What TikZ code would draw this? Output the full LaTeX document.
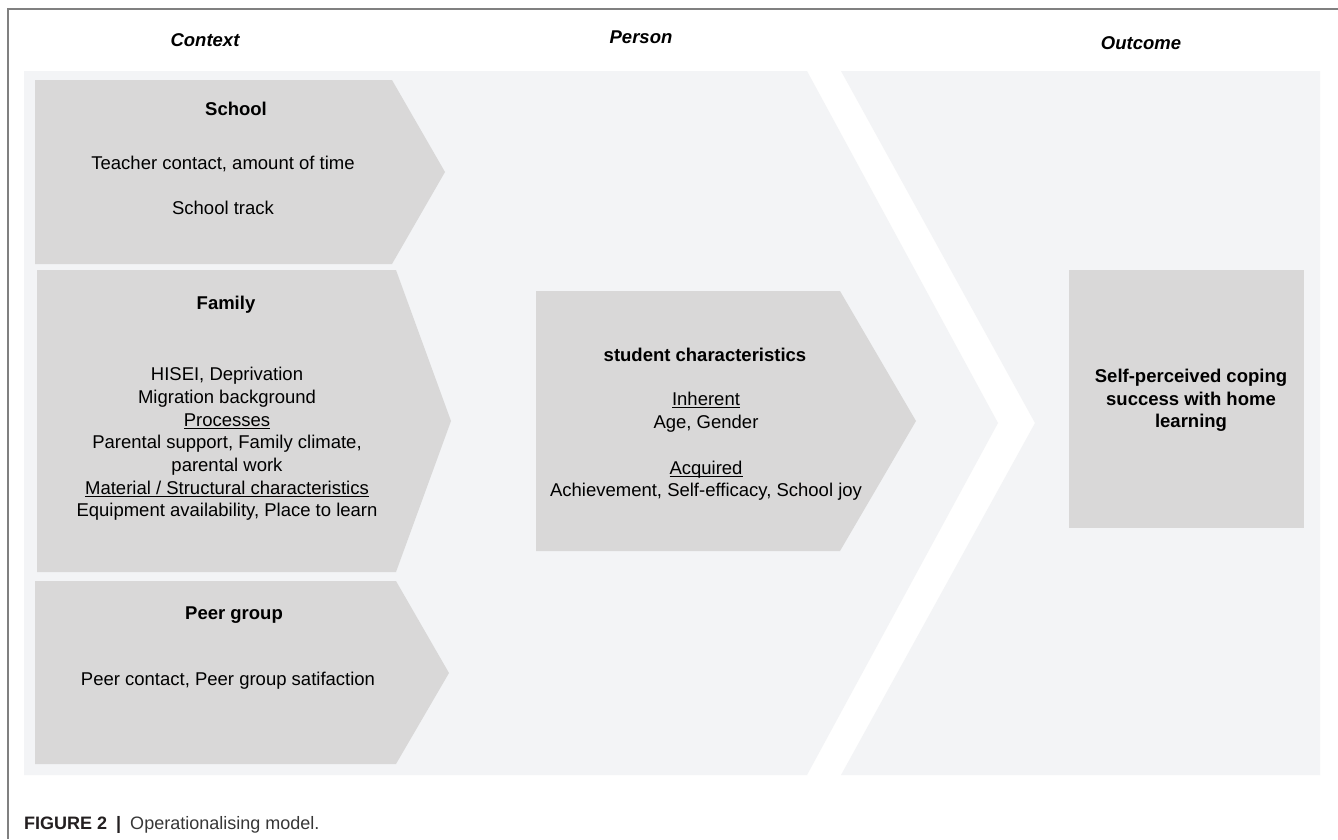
\documentclass[tikz,border=0pt]{standalone}
\usepackage{fontspec}
\setmainfont{Liberation Sans}
\definecolor{panelbg}{RGB}{243,244,246}
\definecolor{boxgray}{RGB}{217,216,216}
\definecolor{framegray}{RGB}{128,128,128}
\definecolor{capdark}{RGB}{35,31,32}
\definecolor{captxt}{RGB}{55,55,55}
\newcommand{\ulx}[1]{\setbox0\hbox{#1}\rlap{\rule[-2.4pt]{\wd0}{0.9pt}}\box0}
\begin{document}
\begin{tikzpicture}[x=1pt,y=-1pt,
  txt/.style={anchor=base, inner sep=0pt, text=black, font=\fontsize{18.5}{22.6}\selectfont},
  ttl/.style={txt, font=\fontsize{18.5}{22.6}\selectfont\bfseries},
  hdr/.style={txt, font=\fontsize{18.5}{22.6}\selectfont\bfseries\itshape},
  panel/.style={fill=panelbg, draw=none},
  chev/.style={fill=boxgray, draw=none},
  frameline/.style={draw=framegray, line width=1.2pt}]
\useasboundingbox (0,0) rectangle (1338,839);
\fill[white] (0,0) rectangle (1338,839);
% frame
\draw[frameline] (8,839) -- (8,9) -- (1338,9);
% background panels
\path[panel] (24,71) -- (807,71) -- (998,423) -- (807,775) -- (24,775) -- cycle;
\path[panel] (841,71) -- (1320,71) -- (1320,775) -- (841,775) -- (1035,423) -- cycle;
% chevrons
\path[chev] (35,80) -- (392,80) -- (445,172) -- (392,264) -- (35,264) -- cycle;
\path[chev] (37,270) -- (396,270) -- (451,421) -- (396,572) -- (37,572) -- cycle;
\path[chev] (35,581) -- (396,581) -- (449,673) -- (396,764) -- (35,764) -- cycle;
\path[chev] (536,291) -- (840,291) -- (916,421) -- (840,551) -- (536,551) -- cycle;
\path[chev] (1069,270) rectangle (1304,528);
% headers
\node[hdr] (hctx) at (205,46.6) {Context};
\node[hdr] (hper) at (641,43.9) {Person};
\node[hdr] (hout) at (1141,49.6) {Outcome};
% school
\node[ttl] (sch) at (236,115.6) {School};
\node[txt] (sch1) at (223,169.6) {Teacher contact, amount of time};
\node[txt] (sch2) at (223,214.6) {School track};
% family
\node[ttl] (fam) at (226,309.6) {Family};
\node[txt] (fam1) at (227,380.6) {HISEI, Deprivation};
\node[txt] (fam2) at (227,403.3) {Migration background};
\node[txt] (fam3) at (227,426.0) {\ulx{Processes}};
\node[txt] (fam4) at (227,448.7) {Parental support, Family climate,};
\node[txt] (fam5) at (227,471.4) {parental work};
\node[txt] (fam6) at (227,494.1) {\ulx{Material / Structural characteristics}};
\node[txt] (fam7) at (227,516.8) {Equipment availability, Place to learn};
% peer group
\node[ttl] (peer) at (234,619.6) {Peer group};
\node[txt] (peer1) at (228,685.6) {Peer contact, Peer group satifaction};
% student
\node[ttl] (stu) at (705,361.6) {student characteristics};
\node[txt] (stu1) at (706,405.6) {\ulx{Inherent}};
\node[txt] (stu2) at (706,428.6) {Age, Gender};
\node[txt] (stu3) at (706,474.6) {\ulx{Acquired}};
\node[txt] (stu4) at (706,496.6) {Achievement, Self-efficacy, School joy};
% outcome
\node[ttl] (out1) at (1191,382.6) {Self-perceived coping};
\node[ttl] (out2) at (1191,405.1) {success with home};
\node[ttl] (out3) at (1191,427.6) {learning};
% caption
\node[anchor=base west, inner sep=0pt, font=\fontsize{18}{22}\selectfont] (cap) at (24,829.5)
  {\textcolor{capdark}{\bfseries FIGURE 2}\hspace{9pt}\textcolor{capdark}{\bfseries |}\hspace{9pt}\textcolor{captxt}{Operationalising model.}};
\end{tikzpicture}
\end{document}
